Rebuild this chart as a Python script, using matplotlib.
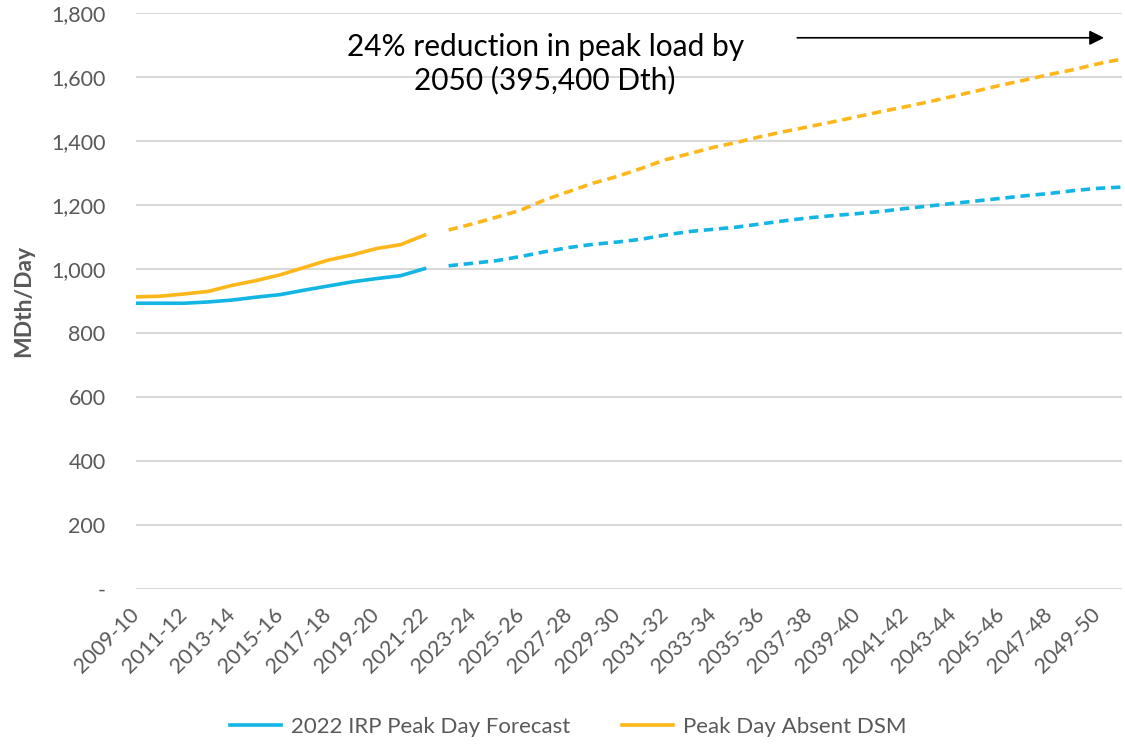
import matplotlib.pyplot as plt
from matplotlib.ticker import FuncFormatter

# Winter seasons 2009-10 .. 2050-51 (last one is not labelled)
seasons = [f"{y}-{str(y + 1)[-2:]}" for y in range(2009, 2051)]

# Historical (solid) values, 2009-10 .. 2021-22
irp_history = [893, 893, 893, 897, 903, 912, 920, 934, 947, 960, 970, 979, 1001]
absent_history = [913, 915, 922, 930, 949, 964, 982, 1005, 1028, 1044, 1064, 1076, 1106]

# Forecast (dashed) values, 2022-23 .. 2050-51
irp_forecast = [1010, 1018, 1026, 1039, 1054, 1067, 1077, 1084, 1093, 1106,
                1117, 1124, 1131, 1141, 1151, 1160, 1167, 1173, 1180, 1189,
                1197, 1205, 1213, 1221, 1229, 1236, 1245, 1252, 1256]
absent_forecast = [1122, 1141, 1162, 1184, 1216, 1242, 1268, 1289, 1314, 1341,
                   1360, 1380, 1396, 1414, 1430, 1445, 1460, 1476, 1492, 1507,
                   1523, 1540, 1557, 1575, 1591, 1608, 1623, 1641, 1656]

y_ticks = [0, 200, 400, 600, 800, 1000, 1200, 1400, 1600, 1800]

BLUE = "#12B5E3"
GOLD = "#FDB71A"
GREY = "#595959"

plt.rcParams["font.family"] = ["Lato", "DejaVu Sans"]

fig = plt.figure(figsize=(11.25, 7.48), dpi=100)
ax = fig.add_axes([0.121, 0.2126, 0.876, 0.77])

n_hist = len(irp_history)
x_hist = list(range(n_hist))
x_fore = list(range(n_hist, n_hist + len(irp_forecast)))

ax.plot(x_hist, irp_history, color=BLUE, lw=2.6, label="2022 IRP Peak Day Forecast")
ax.plot(x_hist, absent_history, color=GOLD, lw=2.6, label="Peak Day Absent DSM")
ax.plot(x_fore, irp_forecast, color=BLUE, lw=2.6, dashes=(2.6, 1.6))
ax.plot(x_fore, absent_forecast, color=GOLD, lw=2.6, dashes=(2.6, 1.6))

ax.set_xlim(0, len(seasons) - 1)
ax.set_ylim(0, 1800)
ax.set_yticks(y_ticks)
ax.yaxis.set_major_formatter(FuncFormatter(lambda v, p: "-" if v == 0 else f"{v:,.0f}"))
ax.set_xticks(range(0, len(seasons) - 1, 2))
ax.set_xticklabels(seasons[:-1:2], rotation=45, ha="right", va="center",
                   rotation_mode="anchor")

ax.grid(axis="y", color="#D9D9D9", lw=1.5)
ax.set_axisbelow(True)
for s in ax.spines.values():
    s.set_visible(False)
ax.tick_params(axis="both", length=0, colors=GREY, labelsize=15.5)
ax.tick_params(axis="y", pad=22)
ax.tick_params(axis="x", pad=16)

ax.set_ylabel("MDth/Day", fontsize=16.5, fontweight="bold", color=GREY, labelpad=12)

# annotation with arrow
ax.text(0.415, 0.912, "24% reduction in peak load by\n2050 (395,400 Dth)",
        transform=ax.transAxes, ha="center", va="center", fontsize=21.5,
        linespacing=1.2, color="black")
ax.annotate("", xy=(0.985, 0.957), xytext=(0.668, 0.957), xycoords="axes fraction",
            arrowprops=dict(arrowstyle="-|>", color="black", lw=1.2,
                            mutation_scale=22))

fig.legend(loc="lower center", bbox_to_anchor=(0.505, -0.012), ncol=2, frameon=False,
           fontsize=16, labelcolor=GREY, handlelength=2.3, handletextpad=0.45,
           columnspacing=2.3)

fig.savefig("out.png", dpi=100)
